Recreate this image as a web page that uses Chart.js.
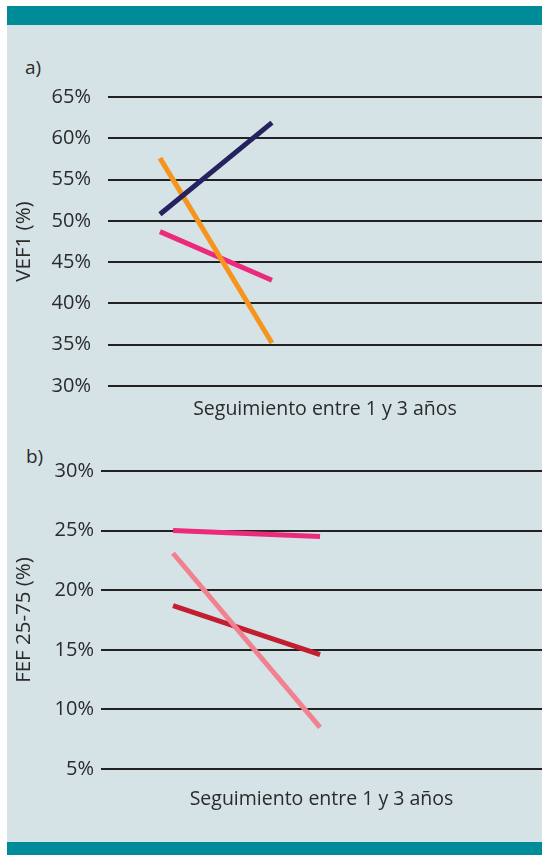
<!DOCTYPE html>
<html>
<head>
<meta charset="utf-8">
<script src="https://cdn.jsdelivr.net/npm/chart.js@4.4.1/dist/chart.umd.min.js"></script>
<style>
  html, body { margin: 0; padding: 0; background: #ffffff; }
  body { width: 542px; height: 855px; position: relative; overflow: hidden; font-family: "Open Sans", sans-serif; }
  #panel { position: absolute; left: 7px; top: 6px; width: 535px; height: 849px; background: #d5e2e6; }
  .bar { position: absolute; left: 7px; width: 535px; background: #008b98; }
  .lbl { position: absolute; font-size: 19px; line-height: 19px; color: #2b2b2b; }
  canvas { position: absolute; left: 7px; }
</style>
</head>
<body>
<div id="panel"></div>
<div class="bar" style="top:6px;height:19px;"></div>
<div class="bar" style="top:842px;height:13px;"></div>
<div class="lbl" style="left:25px;top:58px;">a)</div>
<div class="lbl" style="left:26px;top:447px;">b)</div>
<canvas id="chartA" width="535" height="358" style="top:68px;"></canvas>
<canvas id="chartB" width="535" height="367" style="top:452px;"></canvas>
<script>
// ---- data ----
const periodos = ['Inicio', 'Seguimiento'];
const tituloX = 'Seguimiento entre 1 y 3 años';

const vef1Azul = [50.8, 61.9];
const vef1Naranja = [57.6, 35.2];
const vef1Rosa = [48.7, 42.8];
const ticksVef1 = [30, 35, 40, 45, 50, 55, 60, 65];

const fefRosa = [25.0, 24.5];
const fefSalmon = [23.1, 8.5];
const fefRojo = [18.7, 14.6];
const ticksFef = [5, 10, 15, 20, 25, 30];

// ---- helpers ----
const toPts = arr => arr.map((v, i) => ({ x: i, y: v }));
const textColor = '#2b2b2b';

function makeChart(id, cfg) {
  const ds = cfg.series.map(s => ({
    label: s.name,
    data: toPts(s.values),
    borderColor: s.color,
    backgroundColor: s.color,
    borderWidth: 5,
    borderCapStyle: 'butt',
    pointRadius: 0,
    tension: 0,
    fill: false
  }));
  return new Chart(document.getElementById(id), {
    type: 'line',
    data: { labels: periodos, datasets: ds },
    options: {
      responsive: false,
      animation: false,
      devicePixelRatio: 1,
      layout: { padding: { top: 10, right: 0, bottom: 0, left: 0 } },
      plugins: { legend: { display: false }, tooltip: { enabled: false } },
      scales: {
        x: {
          type: 'linear',
          min: cfg.xMin, max: cfg.xMax,
          grid: { display: false },
          border: { display: false },
          ticks: { display: false },
          title: {
            display: true, text: tituloX, color: textColor,
            font: { family: 'Open Sans', size: 19.5 },
            padding: { top: 0, bottom: cfg.xTitlePad }
          },
          afterFit: s => { s.height = cfg.xAxisH; }
        },
        y: {
          type: 'linear',
          min: cfg.ticks[0], max: cfg.ticks[cfg.ticks.length - 1],
          afterBuildTicks: s => { s.ticks = cfg.ticks.map(v => ({ value: v })); },
          grid: { color: '#222222', lineWidth: 2, drawTicks: false },
          border: { display: false },
          ticks: {
            color: textColor, padding: cfg.tickPad,
            font: { family: 'Open Sans', size: 20 },
            callback: v => v + '%'
          },
          title: {
            display: true, text: cfg.yTitle, color: textColor,
            font: { family: 'Open Sans', size: 20.5 },
            padding: { top: 5, bottom: 0 }
          },
          afterFit: s => { s.width = cfg.yAxisW; }
        }
      }
    }
  });
}

makeChart('chartA', {
  series: [
    { name: 'Azul', values: vef1Azul, color: '#25225f' },
    { name: 'Naranja', values: vef1Naranja, color: '#f7941d' },
    { name: 'Rosa', values: vef1Rosa, color: '#ec2a7b' }
  ],
  ticks: ticksVef1, yTitle: 'VEF1 (%)',
  xMin: -0.464, xMax: 3.411,
  yAxisW: 101, tickPad: 17, xAxisH: 40, xTitlePad: 5
});

makeChart('chartB', {
  series: [
    { name: 'Rosa', values: fefRosa, color: '#ec2a7b' },
    { name: 'Salmón', values: fefSalmon, color: '#f2818f' },
    { name: 'Rojo', values: fefRojo, color: '#c11f30' }
  ],
  ticks: ticksFef, yTitle: 'FEF 25-75 (%)',
  xMin: -0.49, xMax: 2.51,
  yAxisW: 94, tickPad: 7, xAxisH: 50, xTitlePad: 8
});
</script>
</body>
</html>
